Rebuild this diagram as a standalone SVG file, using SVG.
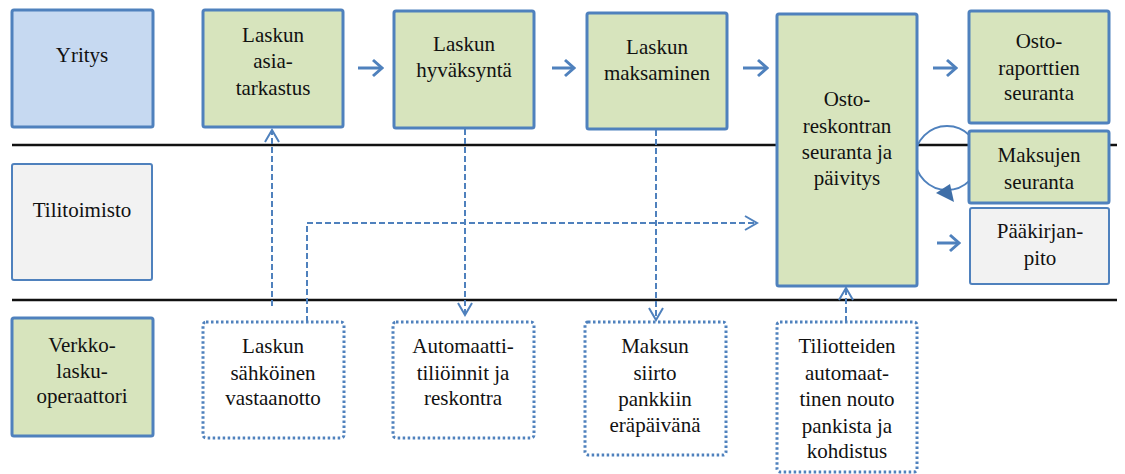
<svg xmlns="http://www.w3.org/2000/svg" width="1125" height="474" viewBox="0 0 1125 474" font-family="Liberation Serif, Times New Roman, serif">
<style>
  text { font-size: 21px; fill: #111; text-anchor: middle; }
  .green { fill: #d7e4bd; stroke: #4f81bd; stroke-width: 3; }
  .blue { fill: #c6d9f1; stroke: #4f81bd; stroke-width: 3; }
  .gray { fill: #f2f2f2; stroke: #4f81bd; stroke-width: 2; }
  .dotted { fill: #ffffff; stroke: #4f81bd; stroke-width: 3; stroke-dasharray: 2.5 2.5; }
  .lane { stroke: #111; stroke-width: 2.5; }
  .dash { fill: none; stroke: #4f81bd; stroke-width: 2; stroke-dasharray: 6 3; marker-end: url(#open); }
  .solid { fill: none; stroke: #4f81bd; stroke-width: 3; marker-end: url(#chev); }
</style>
<defs>
  <marker id="open" markerUnits="userSpaceOnUse" viewBox="-14 -9 16 18" markerWidth="16" markerHeight="18" refX="0" refY="0" orient="auto">
    <path d="M-12,-7 L0,0 L-12,7" fill="none" stroke="#4f81bd" stroke-width="2"/>
  </marker>
  <marker id="chev" markerUnits="userSpaceOnUse" viewBox="-12 -10 14 20" markerWidth="14" markerHeight="20" refX="0" refY="0" orient="auto">
    <path d="M-9,-8 L0,0 L-9,8" fill="none" stroke="#4f81bd" stroke-width="3"/>
  </marker>
</defs>

<g id="lanes">
  <line class="lane" x1="12" y1="145" x2="1117" y2="145"/>
  <line class="lane" x1="12" y1="300" x2="1117" y2="300"/>
</g>

<g id="connectors">
  <line class="solid" x1="358" y1="68" x2="382" y2="68"/>
  <line class="solid" x1="552" y1="68" x2="574" y2="68"/>
  <line class="solid" x1="743" y1="68" x2="767" y2="68"/>
  <line class="solid" x1="933" y1="68" x2="956" y2="68"/>
  <line class="solid" x1="937" y1="243" x2="959" y2="243"/>
  <path class="dash" d="M272,306 L272,130"/>
  <path class="dash" d="M307,322 L307,223 L757,223"/>
  <path class="dash" d="M465,129 L465,315"/>
  <path class="dash" d="M656,130 L656,320"/>
  <path class="dash" d="M846,322 L846,288"/>
  <circle cx="947" cy="158" r="32" fill="none" stroke="#4f81bd" stroke-width="2"/>
  <polygon points="936,193 950,184 954,202" fill="#3f6fa8"/>
</g>

<g id="yritys">
  <rect class="blue" x="12" y="10" width="141" height="117" rx="2"/>
  <text x="82" y="62">Yritys</text>
</g>
<g id="tilitoimisto">
  <rect class="gray" x="12" y="164" width="140" height="116" rx="2"/>
  <text x="82" y="217">Tilitoimisto</text>
</g>
<g id="verkkolaskuoperaattori">
  <rect class="green" x="12" y="318" width="141" height="118" rx="2"/>
  <text x="82" y="352">Verkko-</text>
  <text x="82" y="378">lasku-</text>
  <text x="82" y="403">operaattori</text>
</g>

<g id="asiatarkastus">
  <rect class="green" x="203" y="10" width="140" height="117" rx="2"/>
  <text x="273" y="42">Laskun</text>
  <text x="273" y="68">asia-</text>
  <text x="273" y="95">tarkastus</text>
</g>
<g id="hyvaksynta">
  <rect class="green" x="394" y="11" width="140" height="117" rx="2"/>
  <text x="464" y="51">Laskun</text>
  <text x="464" y="77">hyväksyntä</text>
</g>
<g id="maksaminen">
  <rect class="green" x="587" y="13" width="140" height="116" rx="2"/>
  <text x="657" y="54">Laskun</text>
  <text x="657" y="80">maksaminen</text>
</g>
<g id="ostoreskontra">
  <rect class="green" x="777" y="14" width="140" height="272" rx="2"/>
  <text x="847" y="106">Osto-</text>
  <text x="847" y="133">reskontran</text>
  <text x="847" y="159">seuranta ja</text>
  <text x="847" y="185">päivitys</text>
</g>
<g id="ostoraportit">
  <rect class="green" x="969" y="11" width="140" height="112" rx="2"/>
  <text x="1039" y="48">Osto-</text>
  <text x="1039" y="75">raporttien</text>
  <text x="1039" y="100">seuranta</text>
</g>
<g id="maksujen">
  <rect class="green" x="969" y="131" width="140" height="72" rx="2"/>
  <text x="1039" y="162">Maksujen</text>
  <text x="1039" y="189">seuranta</text>
</g>
<g id="paakirjanpito">
  <rect class="gray" x="970" y="208" width="139" height="76" rx="2"/>
  <text x="1040" y="238">Pääkirjan-</text>
  <text x="1040" y="265">pito</text>
</g>

<g id="vastaanotto">
  <rect class="dotted" x="203" y="322" width="141" height="116" rx="3"/>
  <text x="273" y="353">Laskun</text>
  <text x="273" y="380">sähköinen</text>
  <text x="273" y="405">vastaanotto</text>
</g>
<g id="tilioinnit">
  <rect class="dotted" x="393" y="322" width="141" height="116" rx="3"/>
  <text x="463" y="353">Automaatti-</text>
  <text x="463" y="380">tiliöinnit ja</text>
  <text x="463" y="405">reskontra</text>
</g>
<g id="maksunsiirto">
  <rect class="dotted" x="585" y="322" width="141" height="133" rx="3"/>
  <text x="655" y="353">Maksun</text>
  <text x="655" y="380">siirto</text>
  <text x="655" y="406">pankkiin</text>
  <text x="655" y="432">eräpäivänä</text>
</g>
<g id="tiliotteet">
  <rect class="dotted" x="777" y="322" width="140" height="150" rx="3"/>
  <text x="847" y="353">Tiliotteiden</text>
  <text x="847" y="380">automaat-</text>
  <text x="847" y="406">tinen nouto</text>
  <text x="847" y="433">pankista ja</text>
  <text x="847" y="458">kohdistus</text>
</g>
</svg>
